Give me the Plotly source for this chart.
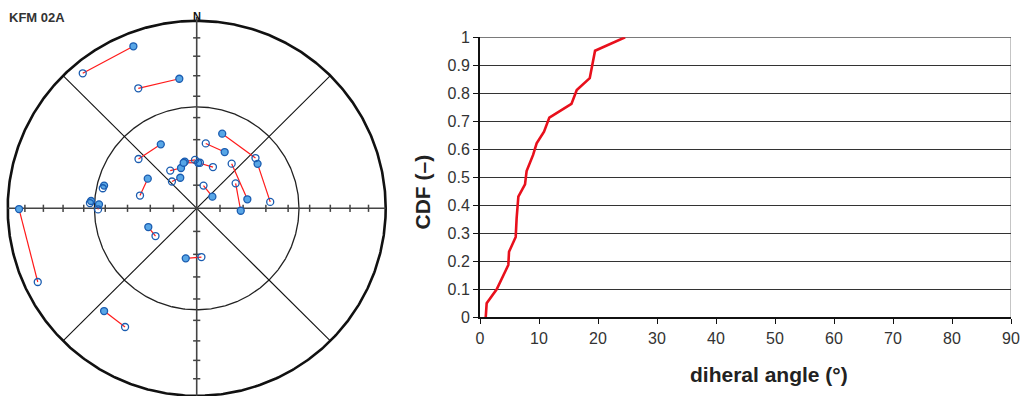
import numpy as np
import plotly.graph_objects as go

W, H = 1030, 396
FONT = "Liberation Sans, Arial, sans-serif"

# Pole pairs on the equal-area net (unit radius), east / north coordinates.
# "a" is the first pole of each pair, "b" its partner.
pole_a_east = [-0.335, -0.092, -0.190, -0.259, -0.083, -0.087, -0.063, -0.069, 0.008,
               0.148, 0.135, 0.322, 0.268, 0.233, 0.083, -0.490, -0.559, -0.517,
               -0.256, -0.058, -0.940, -0.490]
pole_a_north = [0.864, 0.691, 0.341, 0.158, 0.215, 0.163, 0.249, 0.243, 0.243,
                0.300, 0.398, 0.237, 0.048, -0.013, 0.062, 0.121, 0.039, 0.021,
                -0.100, -0.267, -0.004, -0.548]
pole_b_east = [-0.603, -0.309, -0.308, -0.300, -0.140, -0.131, -0.009, 0.017, 0.086,
               0.048, 0.311, 0.389, 0.185, 0.206, 0.036, -0.497, -0.565, -0.522,
               -0.218, 0.025, -0.841, -0.379]
pole_b_north = [0.720, 0.640, 0.263, 0.068, 0.201, 0.143, 0.258, 0.243, 0.220,
                0.346, 0.268, 0.034, 0.238, 0.133, 0.121, 0.107, 0.028, -0.006,
                -0.148, -0.260, -0.393, -0.633]

# Net graduation (degrees) and reference small circle
net_ticks_deg = [10, 20, 30, 40, 50, 60, 70, 80]
ref_circle_deg = 45

# Cumulative distribution of dihedral angles
dihedral_deg = [0.97, 1.13, 2.83, 4.8, 4.92, 6.05, 6.21, 6.5, 7.63, 7.9, 9.0, 9.6,
                10.85, 11.75, 15.5, 16.4, 18.6, 19.5, 24.6]
cdf = [0.0, 0.05, 0.10, 0.187, 0.234, 0.287, 0.354, 0.431, 0.475, 0.522, 0.58, 0.621,
       0.663, 0.713, 0.762, 0.812, 0.854, 0.952, 1.0]


def equal_area(deg):
    return np.sqrt(2.0) * np.sin(np.radians(deg) / 2.0)


fig = go.Figure()

# ---- stereonet -----------------------------------------------------------
t = np.linspace(0, 2 * np.pi, 721)
fig.add_trace(go.Scatter(x=np.cos(t), y=np.sin(t), mode="lines",
                         line=dict(color="#111", width=2.6), xaxis="x", yaxis="y",
                         hoverinfo="skip"))
r45 = equal_area(ref_circle_deg)
fig.add_trace(go.Scatter(x=r45 * np.cos(t), y=r45 * np.sin(t), mode="lines",
                         line=dict(color="#222", width=1.3), xaxis="x", yaxis="y",
                         hoverinfo="skip"))
c = np.cos(np.pi / 4)
fig.add_trace(go.Scatter(x=[c, -c, None, -c, c], y=[c, -c, None, c, -c], mode="lines",
                         line=dict(color="#111", width=1.1), xaxis="x", yaxis="y",
                         hoverinfo="skip"))
# cross axes
fig.add_trace(go.Scatter(x=[-1, 1, None, 0, 0], y=[0, 0, None, -1, 1.02], mode="lines",
                         line=dict(color="#444", width=1.6), xaxis="x", yaxis="y",
                         hoverinfo="skip"))
# graduation ticks along the axes
hx, hy = 3.6 / 189.0, 3.6 / 187.5
tx, ty = [], []
for d in net_ticks_deg:
    r = equal_area(d)
    for s in (-1, 1):
        tx += [s * r, s * r, None]
        ty += [-hy, hy, None]
        tx += [-hx, hx, None]
        ty += [s * r, s * r, None]
fig.add_trace(go.Scatter(x=tx, y=ty, mode="lines", line=dict(color="#444", width=1.5),
                         xaxis="x", yaxis="y", hoverinfo="skip"))

# connecting lines for each pole pair
lx, ly = [], []
for xa, ya, xb, yb in zip(pole_a_east, pole_a_north, pole_b_east, pole_b_north):
    lx += [xa, xb, None]
    ly += [ya, yb, None]
fig.add_trace(go.Scatter(x=lx, y=ly, mode="lines", line=dict(color="#ff1a1a", width=1.2),
                         xaxis="x", yaxis="y", hoverinfo="skip"))
fig.add_trace(go.Scatter(x=pole_a_east, y=pole_a_north, mode="markers",
                         marker=dict(size=7, color="#58a6e6",
                                     line=dict(color="#1a5cb0", width=1.3)),
                         xaxis="x", yaxis="y"))
fig.add_trace(go.Scatter(x=pole_b_east, y=pole_b_north, mode="markers",
                         marker=dict(size=7, color="rgba(255,255,255,0)",
                                     line=dict(color="#1a5cb0", width=1.3)),
                         xaxis="x", yaxis="y"))

# ---- CDF chart -----------------------------------------------------------
fig.add_trace(go.Scatter(x=dihedral_deg, y=cdf, mode="lines",
                         line=dict(color="#e8101c", width=2.6),
                         xaxis="x2", yaxis="y2", cliponaxis=False))

# stereonet pixel frame: centre (196.7, 208.3), radius 189 x 187.5
cx, cy, rx, ry = 196.7, 208.3, 189.0, 187.5
net_w = 400
tickfont = dict(family=FONT, size=16, color="#333")
fig.update_layout(
    width=W, height=H, margin=dict(l=0, r=0, t=0, b=0, autoexpand=False),
    paper_bgcolor="white", plot_bgcolor="white", showlegend=False,
    xaxis=dict(domain=[0, net_w / W], range=[(0 - cx) / rx, (net_w - cx) / rx],
               visible=False, fixedrange=True, automargin=False),
    yaxis=dict(domain=[0, 1], range=[(cy - H) / ry, cy / ry],
               visible=False, fixedrange=True, automargin=False),
    xaxis2=dict(domain=[480 / W, 1011 / W], range=[0, 90], dtick=10, anchor="y2",
                showline=True, linecolor="#111", linewidth=2, ticks="outside",
                ticklen=5, tickcolor="#111", showgrid=False, zeroline=False,
                automargin=False, tickfont=tickfont),
    yaxis2=dict(domain=[1 - 317.3 / H, 1 - 37.3 / H], range=[0, 1], dtick=0.1,
                anchor="x2", showline=True, linecolor="#111", linewidth=2,
                ticks="outside", ticklen=5, tickcolor="#111", showgrid=True,
                gridcolor="#333", gridwidth=1, zeroline=False,
                automargin=False, tickfont=tickfont),
    shapes=[
        dict(type="line", xref="x2", yref="y2", x0=90, x1=90, y0=0, y1=1,
             line=dict(color="#8a8a8a", width=1), layer="below"),
        dict(type="line", xref="x2", yref="y2", x0=0, x1=90, y0=1, y1=1,
             line=dict(color="#222", width=1), layer="below"),
    ],
    annotations=[
        dict(text="<b>KFM 02A</b>", xref="paper", yref="paper", x=7 / W, y=1 - 18 / H,
             xanchor="left", yanchor="middle", showarrow=False,
             font=dict(family=FONT, size=13, color="#333")),
        dict(text="<b>N</b>", xref="paper", yref="paper", x=cx / W, y=1 - 16.5 / H,
             xanchor="center", yanchor="middle", showarrow=False,
             font=dict(family=FONT, size=11, color="#111")),
        dict(text="<b>CDF (–)</b>", xref="paper", yref="paper", x=422 / W,
             y=1 - 192.5 / H, xanchor="center", yanchor="middle", textangle=-90,
             showarrow=False, font=dict(family=FONT, size=21, color="#222")),
        dict(text="<b>diheral angle (°)</b>", xref="paper", yref="paper", x=769 / W,
             y=1 - 374 / H, xanchor="center", yanchor="middle", showarrow=False,
             font=dict(family=FONT, size=21, color="#222")),
    ],
)

fig.write_html("out.html")
